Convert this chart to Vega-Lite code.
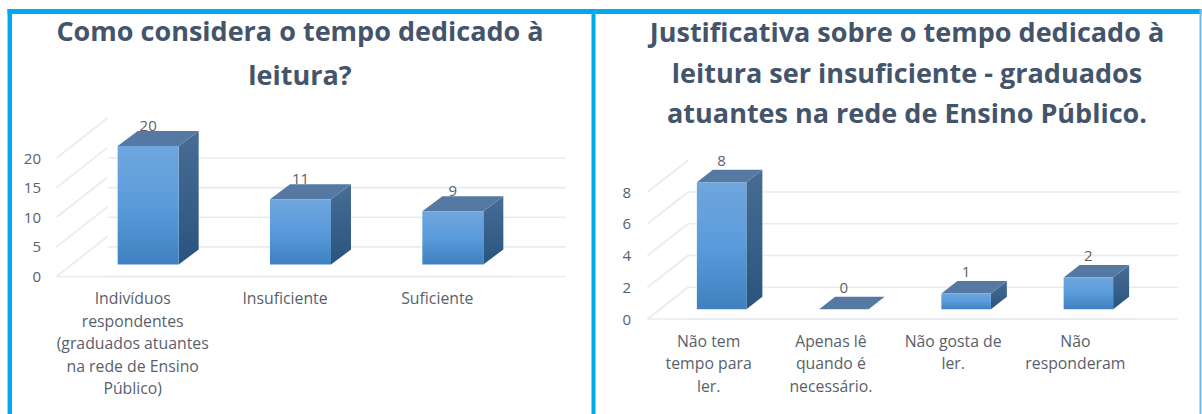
{"$schema":"https://vega.github.io/schema/vega-lite/v6.json","background":"white","padding":{"left":4.5,"top":6,"right":0,"bottom":0},"bounds":"flush","spacing":0,"resolve":{"scale":{"shape":"independent"}},"config":{"view":{"stroke":null},"font":"Open Sans"},"hconcat":[
{"width":588,"height":405,"title":{"text":["Como considera  o tempo dedicado à","leitura?"],"anchor":"middle","frame":"group","font":"Open Sans","fontSize":27,"fontWeight":"bold","color":"#44546a","lineHeight":44,"baseline":"top","offset":-84,"dx":-1.5},
"data":{"values":[{"c":"Indivíduos respondentes (graduados atuantes na rede de Ensino Público)","n":20},{"c":"Insuficiente","n":11},{"c":"Suficiente","n":9}]},
"layer":[
{"data":{"values":[{}]},"mark":{"type":"rule","stroke":"#00a8ec","strokeWidth":4.5},"encoding":{"x":{"value":2.3}}},
{"data":{"values":[{}]},"mark":{"type":"rule","stroke":"#00a8ec","strokeWidth":5},"encoding":{"y":{"value":2.5}}},
{"data":{"values":[{}]},"mark":{"type":"rule","stroke":"#00a8ec","strokeWidth":4},"encoding":{"x":{"value":586}}},
{"data":{"values":[{"v":0},{"v":5},{"v":10},{"v":15},{"v":20}]},"mark":{"type":"rule","stroke":"#e8ebf1","strokeWidth":1.6},"encoding":{"x":{"value":100},"x2":{"value":558},"y":{"field":"v","type":"quantitative","scale":{"domain":[0,20],"range":[267.5,149],"nice":false},"axis":{"values":[0,5,10,15,20],"title":null,"domain":false,"ticks":false,"grid":false,"offset":-33,"labelPadding":0,"labelFontSize":15,"labelColor":"#595f6b","labelFont":"Open Sans"}}}},
{"data":{"values":[{"v":0},{"v":5},{"v":10},{"v":15},{"v":20}]},"mark":{"type":"rule","stroke":"#e8ebf1","strokeWidth":1.6,"y2Offset":-40},"encoding":{"x":{"value":49},"x2":{"value":100},"y":{"field":"v","type":"quantitative"},"y2":{"field":"v"}}},
{"data":{"values":[{"v":0}]},"mark":{"type":"rule","stroke":"#e8ebf1","strokeWidth":1.6},"encoding":{"x":{"value":49},"x2":{"value":506},"y":{"field":"v","type":"quantitative"}}},
{"mark":{"type":"point","filled":true,"opacity":1,"size":4,"xOffset":15.5,"yOffset":-12,"fill":{"gradient":"linear","x1":0,"y1":0,"x2":0,"y2":1,"stops":[{"offset":0,"color":"#486d95"},{"offset":1,"color":"#29547f"}]}},"encoding":{"x":{"field":"c","type":"nominal","sort":null,"scale":{"range":[49,506],"paddingInner":0,"paddingOuter":0},"axis":{"title":null,"domain":false,"ticks":false,"labelAngle":0,"labelPadding":6,"offset":-128.5,"labelFontSize":15.8,"labelColor":"#595f6b","labelLineHeight":22.5,"labelBaseline":"top","labelLimit":0,"labelExpr":"length(datum.label) > 30 ? ['Indivíduos','respondentes','(graduados atuantes','na rede de Ensino','Público)'] : datum.label"}},"y":{"field":"n","type":"quantitative"},"shape":{"field":"c","type":"nominal","legend":null,"scale":{"domain":["Indivíduos respondentes (graduados atuantes na rede de Ensino Público)","Insuficiente","Suficiente"],"range":["M30.5,0L50.5,-15L50.5,103.5L30.5,118.5Z","M30.5,0L50.5,-15L50.5,50.2L30.5,65.2Z","M30.5,0L50.5,-15L50.5,38.3L30.5,53.3Z"]}}}},
{"mark":{"type":"point","filled":true,"opacity":1,"size":4,"xOffset":15.5,"yOffset":-12,"fill":"#5679a4","shape":"M-30.5,0L30.5,0L50.5,-15L-10.5,-15Z"},"encoding":{"x":{"field":"c","type":"nominal","sort":null},"y":{"field":"n","type":"quantitative"}}},
{"mark":{"type":"bar","width":61,"xOffset":15.5,"x2Offset":15.5,"yOffset":-12,"y2Offset":-12,"fill":{"gradient":"linear","x1":0,"y1":0,"x2":0,"y2":1,"stops":[{"offset":0,"color":"#6fa6dd"},{"offset":0.5,"color":"#5a9bdc"},{"offset":1,"color":"#3f80bf"}]}},"encoding":{"x":{"field":"c","type":"nominal","sort":null},"y":{"field":"n","type":"quantitative"}}},
{"mark":{"type":"text","xOffset":15.5,"yOffset":-32,"fontSize":15,"color":"#595f6b","baseline":"middle"},"encoding":{"x":{"field":"c","type":"nominal","sort":null},"y":{"field":"n","type":"quantitative"},"text":{"field":"n","type":"quantitative"}}}
]},
{"width":606,"height":405,"title":{"text":["Justificativa sobre o tempo dedicado à","leitura ser insuficiente  - graduados","atuantes na rede de Ensino Público."],"anchor":"middle","frame":"group","font":"Open Sans","fontSize":27,"fontWeight":"bold","color":"#44546a","lineHeight":40.5,"baseline":"top","offset":-121,"dx":8.5},
"data":{"values":[{"c":"Não tem tempo para ler.","n":8},{"c":"Apenas lê quando é necessário.","n":0},{"c":"Não gosta de ler.","n":1},{"c":"Não responderam","n":2}]},
"layer":[
{"data":{"values":[{}]},"mark":{"type":"rule","stroke":"#00a8ec","strokeWidth":5},"encoding":{"y":{"value":2.5}}},
{"data":{"values":[{}]},"mark":{"type":"rule","stroke":"#6fbbe6","strokeWidth":2},"encoding":{"x":{"value":605}}},
{"data":{"values":[{"v":0},{"v":2},{"v":4},{"v":6},{"v":8}]},"mark":{"type":"rule","stroke":"#e8ebf1","strokeWidth":1.6},"encoding":{"x":{"value":93},"x2":{"value":583},"y":{"field":"v","type":"quantitative","scale":{"domain":[0,8],"range":[310,183],"nice":false},"axis":{"values":[0,2,4,6,8],"title":null,"domain":false,"ticks":false,"grid":false,"offset":-35,"labelPadding":0,"labelFontSize":15,"labelColor":"#595f6b"}}}},
{"data":{"values":[{"v":0},{"v":2},{"v":4},{"v":6},{"v":8}]},"mark":{"type":"rule","stroke":"#e8ebf1","strokeWidth":1.6,"y2Offset":-32},"encoding":{"x":{"value":52},"x2":{"value":93},"y":{"field":"v","type":"quantitative"},"y2":{"field":"v"}}},
{"data":{"values":[{"v":0}]},"mark":{"type":"rule","stroke":"#e8ebf1","strokeWidth":1.6},"encoding":{"x":{"value":52},"x2":{"value":541},"y":{"field":"v","type":"quantitative"}}},
{"mark":{"type":"point","filled":true,"opacity":1,"size":4,"xOffset":13,"yOffset":-9.7,"fill":{"gradient":"linear","x1":0,"y1":0,"x2":0,"y2":1,"stops":[{"offset":0,"color":"#486d95"},{"offset":1,"color":"#29547f"}]}},"encoding":{"x":{"field":"c","type":"nominal","sort":null,"scale":{"range":[52,541],"paddingInner":0,"paddingOuter":0},"axis":{"title":null,"domain":false,"ticks":false,"labelAngle":0,"labelPadding":7,"offset":-87,"labelFontSize":15.8,"labelColor":"#595f6b","labelLineHeight":22.5,"labelBaseline":"top","labelLimit":0,"labelExpr":"datum.label == 'Não tem tempo para ler.' ? ['Não tem','tempo para','ler.'] : datum.label == 'Apenas lê quando é necessário.' ? ['Apenas lê','quando é','necessário.'] : datum.label == 'Não gosta de ler.' ? ['Não gosta de','ler.'] : ['Não','responderam']"}},"y":{"field":"n","type":"quantitative"},"shape":{"field":"c","type":"nominal","legend":null,"scale":{"domain":["Não tem tempo para ler.","Apenas lê quando é necessário.","Não gosta de ler.","Não responderam"],"range":["M24.75,0L40.75,-12.5L40.75,114.5L24.75,127Z","M24.75,0L40.75,-12.5L24.75,0Z","M24.75,0L40.75,-12.5L40.75,3.4L24.75,15.9Z","M24.75,0L40.75,-12.5L40.75,19.3L24.75,31.8Z"]}}}},
{"mark":{"type":"point","filled":true,"opacity":1,"size":4,"xOffset":13,"yOffset":-9.7,"fill":"#5679a4","shape":"M-24.75,0L24.75,0L40.75,-12.5L-8.75,-12.5Z"},"encoding":{"x":{"field":"c","type":"nominal","sort":null},"y":{"field":"n","type":"quantitative"}}},
{"mark":{"type":"bar","width":49.5,"xOffset":13,"x2Offset":13,"yOffset":-9.7,"y2Offset":-9.7,"fill":{"gradient":"linear","x1":0,"y1":0,"x2":0,"y2":1,"stops":[{"offset":0,"color":"#6fa6dd"},{"offset":0.5,"color":"#5a9bdc"},{"offset":1,"color":"#3f80bf"}]}},"encoding":{"x":{"field":"c","type":"nominal","sort":null},"y":{"field":"n","type":"quantitative"}}},
{"mark":{"type":"text","xOffset":13,"yOffset":-31,"fontSize":15,"color":"#595f6b","baseline":"middle"},"encoding":{"x":{"field":"c","type":"nominal","sort":null},"y":{"field":"n","type":"quantitative"},"text":{"field":"n","type":"quantitative"}}}
]}
]}
